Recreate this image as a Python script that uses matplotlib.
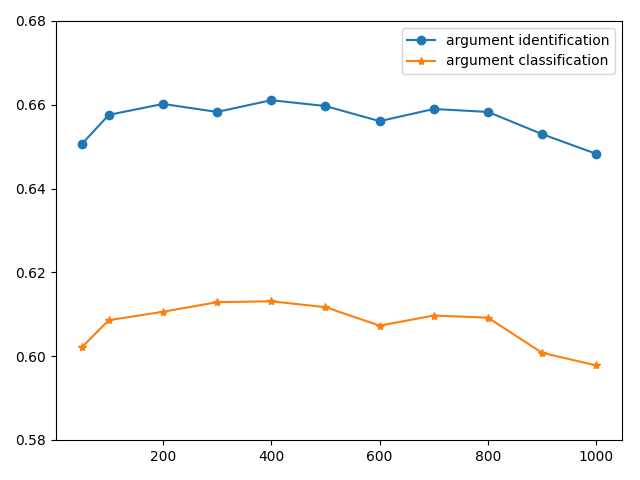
import matplotlib
matplotlib.use("Agg")
import matplotlib.pyplot as plt

x = [50, 100, 200, 300, 400, 500, 600, 700, 800, 900, 1000]
ident = [0.6506, 0.6576, 0.6602, 0.6583, 0.6611, 0.6597, 0.6561, 0.6590, 0.6583, 0.6530, 0.6483]
classif = [0.6021, 0.6086, 0.6106, 0.6129, 0.6131, 0.6117, 0.6073, 0.6097, 0.6092, 0.6008, 0.5978]

fig, ax = plt.subplots(figsize=(6.4, 4.8), dpi=100)
ax.plot(x, ident, marker='o', label='argument identification')
ax.plot(x, classif, marker='*', label='argument classification')
ax.set_ylim(0.58, 0.68)
ax.set_xticks([200, 400, 600, 800, 1000])
ax.legend(loc='upper right')
fig.subplots_adjust(left=56/640, right=622/640, top=1-21/480, bottom=1-440/480)
fig.savefig('out.png')
